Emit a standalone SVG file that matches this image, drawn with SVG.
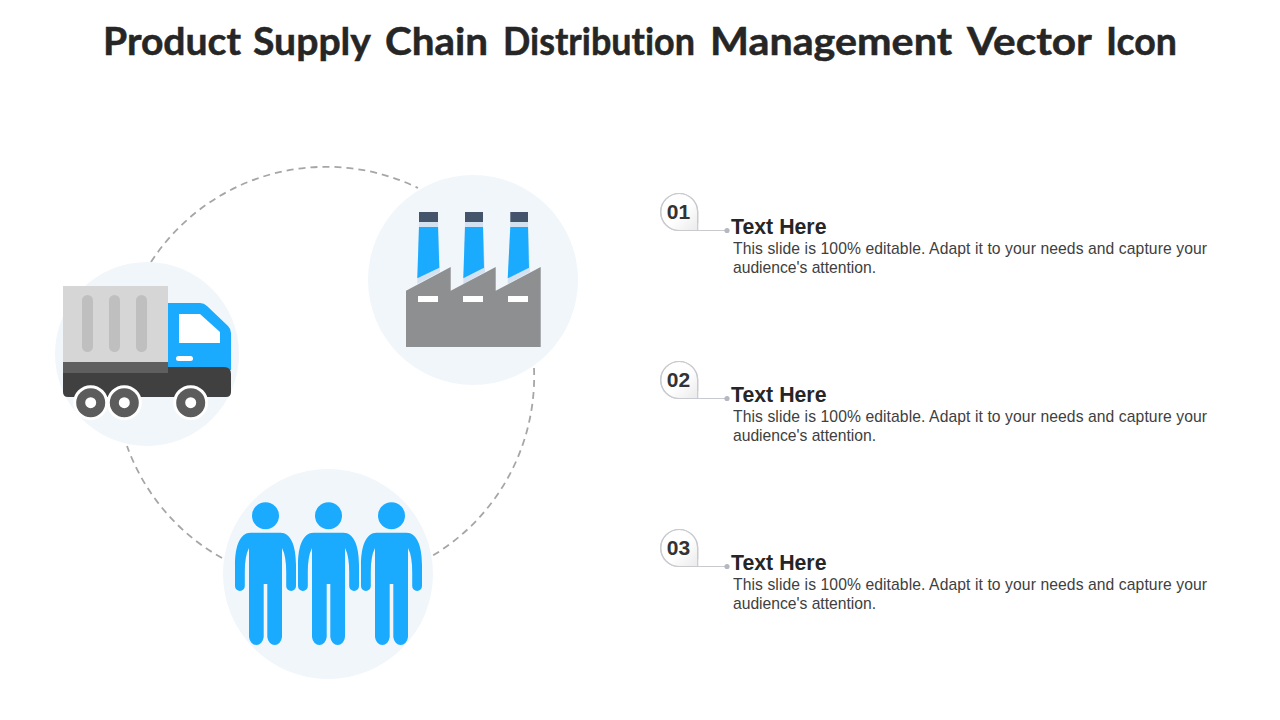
<svg xmlns="http://www.w3.org/2000/svg" xmlns:xlink="http://www.w3.org/1999/xlink" width="1280" height="720" viewBox="0 0 1280 720">
<style>
.bg{fill:#f1f6fb}
.blue{fill:#1aabff}
.dash{fill:none;stroke:#a6a6a6;stroke-width:1.8;stroke-dasharray:7 5}
.title{font:700 38.5px Lato,"Liberation Sans",sans-serif;fill:#262626;stroke:#262626;stroke-width:.5;font-variant-ligatures:none}
.num{font:700 21px "Liberation Sans",Arial,sans-serif;fill:#333;text-anchor:middle}
.head{font:700 21.3px "Liberation Sans",Arial,sans-serif;fill:#262626}
.body{font:15.7px "Liberation Sans",Arial,sans-serif;fill:#404040}
.badge{fill:url(#badgeFill);stroke:#c8cacf;stroke-width:1.2}
.lead{fill:none;stroke:#c8cacf;stroke-width:1.2}
.dot{fill:#b4b8c0}
.cap{fill:#44546a}
.pale{fill:#d3e1f1}
.white{fill:#fff}
.wheel{fill:#5c5c5c;stroke:#fff;stroke-width:3}
</style>
<defs>
<linearGradient id="badgeFill" x1="0.2" y1="0.2" x2="0.95" y2="0.95"><stop offset="0.45" stop-color="#fff"/><stop offset="1" stop-color="#ececec"/></linearGradient>
<path id="person" class="blue" d="M-15,532.7 C-25,532.7 -30.5,545 -30.5,565 V586 A4.9,4.9 0 0 0 -20.7,586 V572 Q-20.7,556 -16.5,548 V637 A7.4,9 0 0 0 -1.8,637 V584 H1.8 V637 A7.4,9 0 0 0 16.5,637 V548 Q20.7,556 20.7,572 V586 A4.9,4.9 0 0 0 30.5,586 V565 C30.5,545 25,532.7 15,532.7 Z"/>
<g id="label"><path class="badge" d="M697.7,223 V212 A18.5,18.5 0 1 0 679.2,230.5 H697.7 Z" stroke="none"/><path class="lead" d="M697.7,223 V212 A18.5,18.5 0 1 0 679.2,230.5 H727"/><circle class="dot" cx="727" cy="230.5" r="2.6"/></g>
</defs>
<text class="title" y="55"><tspan x="103" textLength="138" lengthAdjust="spacingAndGlyphs">Product</tspan> <tspan x="253" textLength="117" lengthAdjust="spacingAndGlyphs">Supply</tspan> <tspan x="385" textLength="103" lengthAdjust="spacingAndGlyphs">Chain</tspan> <tspan x="503" textLength="192" lengthAdjust="spacingAndGlyphs">Distribution</tspan> <tspan x="710" textLength="242" lengthAdjust="spacingAndGlyphs">Management</tspan> <tspan x="967" textLength="124" lengthAdjust="spacingAndGlyphs">Vector</tspan> <tspan x="1106" textLength="71" lengthAdjust="spacingAndGlyphs">Icon</tspan></text>

<g id="connectors">
<path class="dash" d="M151,262 A209,209 0 0 1 418,188"/>
<path class="dash" d="M534,368 A209,209 0 0 1 432,556"/>
<path class="dash" d="M222,558 A209,209 0 0 1 127,446"/>
</g>

<g id="node-truck">
<circle class="bg" cx="147" cy="354" r="92"/>
<path class="blue" d="M168,303 H200 Q204,303 207,306 L228,326 Q231,329 231,333 V370 H168 Z"/>
<path class="white" d="M179,314 H200 L220,332 V343 H179 Z"/>
<rect class="white" x="176" y="356" width="17" height="5" rx="2.5"/>
<path fill="#404040" d="M63,367 H224 Q231,367 231,374 V392 Q231,397 226,397 H68 Q63,397 63,392 Z"/>
<rect x="63" y="286" width="105" height="87" fill="#d6d6d6"/>
<rect x="63" y="362" width="105" height="11" fill="#5f5f5f"/>
<rect x="82" y="295" width="11" height="57" rx="5.5" fill="#bfbfbf"/>
<rect x="109" y="295" width="11" height="57" rx="5.5" fill="#bfbfbf"/>
<rect x="136" y="295" width="11" height="57" rx="5.5" fill="#bfbfbf"/>
<circle class="wheel" cx="90.7" cy="402.7" r="16"/><circle class="white" cx="90.7" cy="402.7" r="5.5"/>
<circle class="wheel" cx="124.3" cy="402.7" r="16"/><circle class="white" cx="124.3" cy="402.7" r="5.5"/>
<circle class="wheel" cx="190.7" cy="402.7" r="16"/><circle class="white" cx="190.7" cy="402.7" r="5.5"/>
</g>

<g id="node-factory">
<circle class="bg" cx="473" cy="280" r="105"/>
<path class="pale" d="M419,222 H438 L440,272 L417.3,284 Z"/>
<path class="pale" d="M465,222 H483 L485,272 L463.3,284 Z"/>
<path class="pale" d="M510.3,222 H528 L530,272 L507.7,284 Z"/>
<path class="blue" d="M419,227 H438 L439.3,267.7 L417.3,278.3 Z"/>
<path class="blue" d="M465,227 H483 L484,267.7 L463.3,278.3 Z"/>
<path class="blue" d="M510.3,227 H528 L529,267.7 L507.7,278.3 Z"/>
<rect class="cap" x="419" y="212" width="19" height="10"/>
<rect class="cap" x="465" y="212" width="18" height="10"/>
<rect class="cap" x="510.3" y="212" width="17.7" height="10"/>
<path fill="#8e8f91" d="M406,290.7 L450.7,267 V290.7 L495.7,267 V290.7 L540.7,267 V347 H406 Z"/>
<rect class="white" x="418" y="296" width="20" height="6"/>
<rect class="white" x="463" y="296" width="20" height="6"/>
<rect class="white" x="508" y="296" width="20" height="6"/>
</g>

<g id="node-people">
<circle class="bg" cx="328" cy="574" r="105"/>
<circle class="blue" cx="265.5" cy="515.7" r="13.5"/>
<circle class="blue" cx="328.5" cy="515.7" r="13.5"/>
<circle class="blue" cx="391.5" cy="515.7" r="13.5"/>
<use xlink:href="#person" href="#person" x="265.5"/>
<use xlink:href="#person" href="#person" x="328.5"/>
<use xlink:href="#person" href="#person" x="391.5"/>
</g>

<g id="node-item1">
<use xlink:href="#label" href="#label"/>
<text class="num" x="678.5" y="219">01</text>
<text class="head" x="731" y="234">Text Here</text>
<text class="body" x="733" y="254" textLength="474">This slide is 100% editable. Adapt it to your needs and capture your</text>
<text class="body" x="733" y="273" textLength="143">audience's attention.</text>
</g>
<g id="node-item2">
<use xlink:href="#label" href="#label" y="168"/>
<text class="num" x="678.5" y="387">02</text>
<text class="head" x="731" y="402">Text Here</text>
<text class="body" x="733" y="422" textLength="474">This slide is 100% editable. Adapt it to your needs and capture your</text>
<text class="body" x="733" y="441" textLength="143">audience's attention.</text>
</g>
<g id="node-item3">
<use xlink:href="#label" href="#label" y="336"/>
<text class="num" x="678.5" y="555">03</text>
<text class="head" x="731" y="570">Text Here</text>
<text class="body" x="733" y="590" textLength="474">This slide is 100% editable. Adapt it to your needs and capture your</text>
<text class="body" x="733" y="609" textLength="143">audience's attention.</text>
</g>
</svg>
